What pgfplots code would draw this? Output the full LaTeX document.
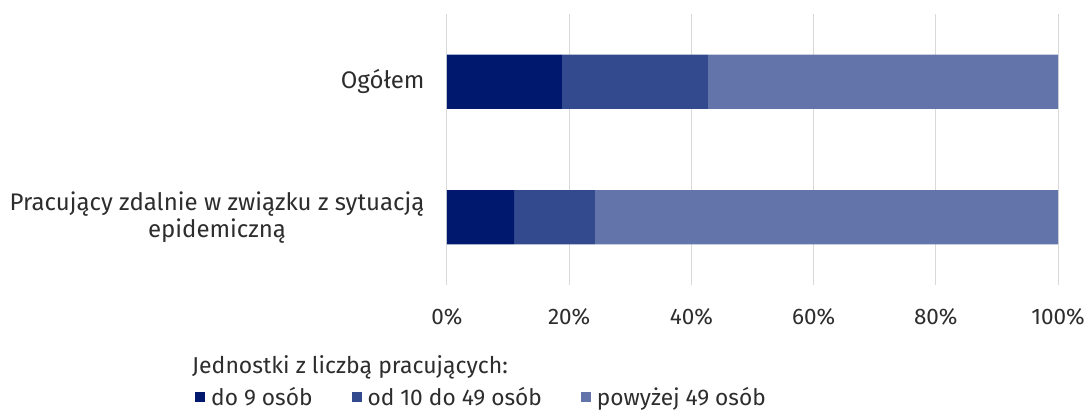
\documentclass[border=0pt]{standalone}
\usepackage{pgfplots}
\pgfplotsset{compat=1.18}
\usepackage{fontspec}
\setmainfont{Fira Sans}
\definecolor{c1}{RGB}{0,25,110}
\definecolor{c2}{RGB}{52,74,143}
\definecolor{c3}{RGB}{99,116,170}
\definecolor{txt}{RGB}{45,45,45}
\definecolor{grd}{RGB}{217,217,217}
\begin{document}
\begin{tikzpicture}
\begin{axis}[
  scale only axis,
  width=611pt, height=271pt,
  xbar stacked,
  xmin=0, xmax=100,
  ymin=-0.5, ymax=1.5,
  y dir=reverse,
  bar width=0.4,
  axis line style={draw=none},
  major tick length=0pt,
  xtick={0,20,40,60,80,100},
  xticklabel={\pgfmathprintnumber{\tick}\%},
  xmajorgrids,
  grid style={grd, line width=1pt},
  ytick={0,1},
  yticklabels={Ogółem, {Pracujący zdalnie w związku z sytuacją\\epidemiczną}},
  yticklabel style={align=center, font=\fontsize{24}{27}\selectfont, text=txt, xshift=-19pt},
  xticklabel style={font=\fontsize{22.5}{26}\selectfont, text=txt, yshift=-20pt},
  /pgf/number format/assume math mode=true,
  legend columns=3,
  legend style={draw=none, at={(rel axis cs:-0.4124,-0.414)}, anchor=west,
    font=\fontsize{22.7}{25}\selectfont, text=txt, inner sep=0pt,
    /tikz/every even column/.append style={column sep=37pt},
    /tikz/every odd column/.append style={column sep=4pt}},
  legend image code/.code={\fill[#1] (0pt,-5pt) rectangle (10pt,5pt);},
]
\addplot[fill=c1, draw=none] coordinates {(18.8,0) (11.0,1)};
\addplot[fill=c2, draw=none] coordinates {(23.9,0) (13.2,1)};
\addplot[fill=c3, draw=none] coordinates {(57.3,0) (75.8,1)};
\legend{do 9 osób, od 10 do 49 osób\hspace{33pt}, powyżej 49 osób}
\end{axis}
\node[anchor=west, inner sep=0pt, text=txt, font=\fontsize{23}{26}\selectfont] at ([xshift=-255pt, yshift=-82pt]current axis.south west) {Jednostki z liczbą pracujących:};
\pgfresetboundingbox
\path[use as bounding box] ([xshift=-447pt, yshift=-125pt]current axis.south west) rectangle ++(1090pt,410pt);
\end{tikzpicture}
\end{document}
